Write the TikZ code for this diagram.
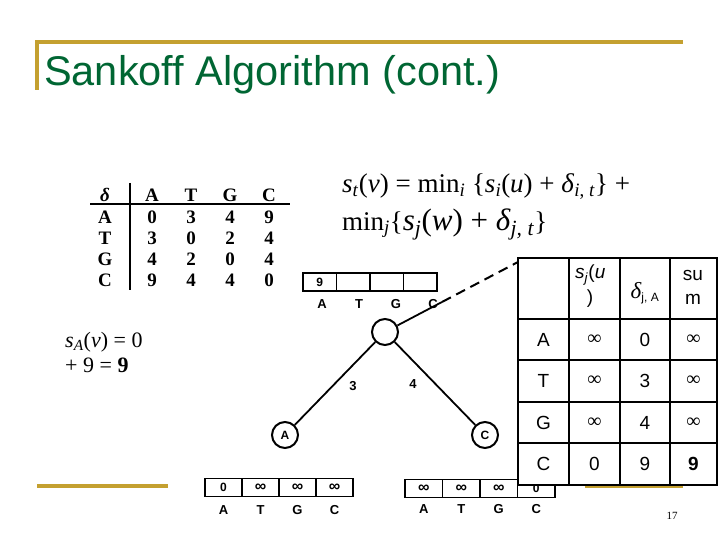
\documentclass[tikz,border=0pt]{standalone}
\usepackage{fontspec}
\setmainfont{Liberation Serif}
\setsansfont{Liberation Sans}
\usetikzlibrary{positioning}
\definecolor{titlegreen}{RGB}{0,102,51}
\definecolor{titlegold}{RGB}{196,160,48}
\newcommand{\lsub}[1]{\textsubscript{#1}}
\newcommand{\inftxt}{{\rmfamily\fontsize{20}{20}\selectfont\raisebox{-1pt}{∞}}}
\newcommand{\infcell}{{\fontsize{16}{16}\selectfont ∞}}

\begin{document}
\begin{tikzpicture}[x=1pt,y=-1pt,
	rule/.style={titlegold,line width=3.5pt},
	dtab/.style={font=\fontsize{19}{19}\selectfont\bfseries},
	tnode/.style={circle,draw,line width=2pt,minimum size=26pt,inner sep=0pt,font=\sffamily\bfseries\fontsize{12}{12}\selectfont},
	acell/.style={draw,line width=1.8pt,minimum height=18pt,inner sep=0pt,font=\sffamily\bfseries\fontsize{12}{12}\selectfont},
	alab/.style={font=\sffamily\bfseries\fontsize{13}{13}\selectfont},
	tab/.style={font=\sffamily\fontsize{19}{19}\selectfont,inner sep=0pt},
	frm/.style={anchor=base west,inner sep=0pt}]
	\useasboundingbox (0,0) rectangle (720,540);
	\draw[rule] (37,42) -- (683,42);
	\draw[rule] (37,40.25) -- (37,90);
	\draw[rule] (37,486) -- (168,486);
	\draw[rule] (585,486) -- (683,486);
	\node[frm,text=titlegreen,font=\sffamily\fontsize{41.5}{41.5}\selectfont] (title) at (44,86) {Sankoff Algorithm (cont.)};

	\draw[line width=1.8pt] (90,204) -- (290,204);
	\draw[line width=1.8pt] (130,183) -- (130,290);
	\node[dtab] (dhead) at (105,195) {\textit{δ}};
	\foreach \c [count=\k] in {A,T,G,C}
		\node[dtab] (dcol\k) at ({113+39*\k},195) {\c};
	\foreach \r/\vals [count=\j] in {A/{0,3,4,9},T/{3,0,2,4},G/{4,2,0,4},C/{9,4,4,0}} {
		\node[dtab] (drow\j) at (105,{196+21*\j}) {\r};
		\foreach \v [count=\k] in \vals
			\node[dtab] at ({113+39*\k},{196+21*\j}) {\v};
	}

	\node[frm,font=\fontsize{27}{27}\selectfont] (rec1) at (342,193) {\textit{s}\lsub{\textit{t}}(\textit{v}) = min\lsub{\textit{i}} \{\textit{s}\lsub{\textit{i}}(\textit{u}) + \textit{δ}\lsub{\textit{i}, \textit{t}}\} +};
	\node[frm,font=\fontsize{27}{27}\selectfont] (rec2) at (342,230) {min\lsub{\textit{j}}\{{\fontsize{31}{31}\selectfont\textit{s}\lsub{\textit{j}}(\textit{w}) + \textit{δ}\lsub{\textit{j, t}}}\}};

	\node[frm,font=\fontsize{22}{22}\selectfont] (sumA) at (65,347) {\textit{s}\lsub{\textit{A}}(\textit{v}) = 0};
	\node[frm,font=\fontsize{22}{22}\selectfont] (sumB) at (65,372) {+ 9 = \textbf{9}};

	\node[tnode] (root) at (385,332) {};
	\node[tnode] (leafA) at (285,435) {A};
	\node[tnode] (leafC) at (485,435) {C};
	\coordinate (cut) at (442,302);
	\coordinate (tabedge) at (518,262);
	\draw[line width=1.8pt] (root) -- (leafA);
	\draw[line width=1.8pt] (root) -- (leafC);
	\draw[line width=1.8pt] (root) -- (cut);
	\draw[line width=2pt,dash pattern=on 10pt off 6pt] (cut) -- (tabedge);
	\node[alab] (wA) at (353,386) {3};
	\node[alab] (wC) at (413,384) {4};

	\foreach \v/\c [count=\k] in {9/A,{}/T,{}/G,{}/C} {
		\node[acell,minimum width=33.5pt] (rc\k) at ({286.25+33.5*\k},282) {\v};
		\node[alab] at ({285+37*\k},304) {\c};
	}
	\foreach \v/\c [count=\k] in {0/A,\infcell/T,\infcell/G,\infcell/C} {
		\node[acell,minimum width=37pt] (lc\k) at ({186.5+37*\k},487.5) {\v};
		\node[alab] at ({186.5+37*\k},510) {\c};
	}
	\foreach \v/\c [count=\k] in {\infcell/A,\infcell/T,\infcell/G,0/C} {
		\node[acell,minimum width=37.5pt] (cc\k) at ({386.25+37.5*\k},488.5) {\v};
		\node[alab] at ({386.25+37.5*\k},509) {\c};
	}

	\fill[white] (518,258) rectangle (717,485);
	\foreach \x in {569,620,670}
		\draw[line width=1.4pt] (\x,258) -- (\x,485);
	\foreach \y in {319,360,402,443}
		\draw[line width=1.4pt] (518,\y) -- (717,\y);
	\draw[line width=2.8pt] (518,258) rectangle (717,485);
	\node[tab,anchor=west] (hsu) at (575,275) {\textit{s}\lsub{\textit{j}}(\textit{u}};
	\node[tab] (hsu2) at (590,299) {)};
	\node[tab] (hdel) at (645,293) {{\rmfamily\itshape\fontsize{23}{23}\selectfont δ}\lsub{\fontsize{12}{12}\selectfont j, A}};
	\node[tab] (hsum) at (693,275) {su};
	\node[tab] (hsum2) at (693,299) {m};
	\foreach \r/\a/\b/\c [count=\k] in {A/\inftxt/0/\inftxt,T/\inftxt/3/\inftxt,G/\inftxt/4/\inftxt,C/0/9/\textbf{9}} {
		\node[tab] (trow\k) at (543.5,{298+41.5*\k}) {\r};
		\node[tab] at (594.5,{298+41.5*\k}) {\a};
		\node[tab] at (645,{298+41.5*\k}) {\b};
		\node[tab] at (693.5,{298+41.5*\k}) {\c};
	}

	\node[font=\fontsize{11}{11}\selectfont] (page) at (672,516) {17};
\end{tikzpicture}
\end{document}
